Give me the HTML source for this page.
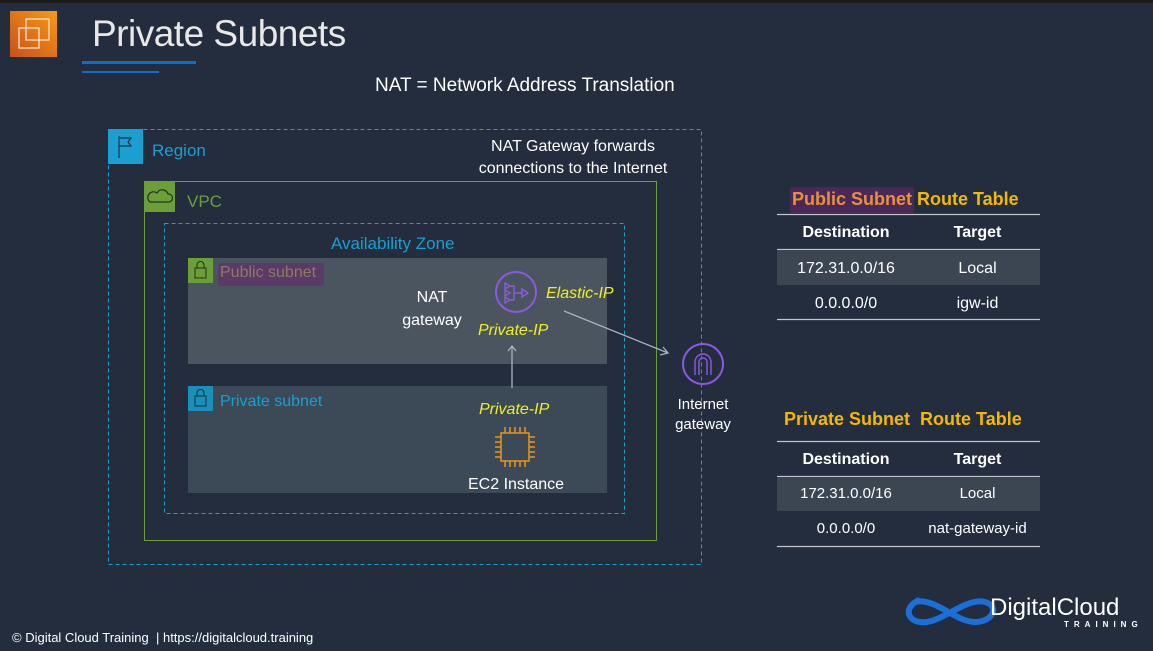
<!DOCTYPE html>
<html><head><meta charset="utf-8"><style>
body{margin:0;width:1153px;height:651px;background:#232d3d;overflow:hidden;position:relative;font-family:"Liberation Sans",sans-serif}
.t{position:absolute;white-space:nowrap}
</style></head><body>
<div style="position:absolute;left:0;top:0;width:1153px;height:3px;background:#1c1c1c"></div>
<svg width="1153" height="651" style="position:absolute;left:0;top:0">
<defs><linearGradient id="og" x1="0" y1="1" x2="1" y2="0"><stop offset="0" stop-color="#c8511b"/><stop offset="1" stop-color="#f79a14"/></linearGradient></defs>
<rect x="10" y="11" width="47" height="46" fill="url(#og)"/>
<rect x="26" y="19" width="23" height="21" fill="none" stroke="#fff" stroke-width="1.2" opacity=".85"/>
<rect x="19" y="28" width="20" height="20" fill="none" stroke="#fff" stroke-width="1.2" opacity=".85"/>
<rect x="82" y="61" width="114" height="3" fill="#0a6fc7"/>
<rect x="82" y="71" width="77" height="2" fill="#0a6fc7"/>
<rect x="108.5" y="129.5" width="593" height="435" fill="none" stroke="#1a9fd0" stroke-dasharray="4,3"/>
<rect x="108" y="129" width="35" height="35" fill="#1a9fd0"/>
<path d="M119 136v22M119 138h12l-3 4 3 4h-12" fill="none" stroke="#16384a" stroke-width="1.2"/>
<rect x="144.5" y="181.5" width="512" height="359" fill="none" stroke="#6c9e3a"/>
<rect x="144" y="181" width="31" height="31" fill="#6c9e3a"/>
<path d="M150 202h19a4 4 0 0 0-1-8a6 6 0 0 0-11-1a4 4 0 0 0-7 9z" fill="none" stroke="#24321a" stroke-width="1.2"/>
<rect x="164.5" y="223.5" width="460" height="290" fill="none" stroke="#1a9fd0" stroke-dasharray="4,3"/>
<rect x="188" y="258" width="419" height="106" fill="#4a555f"/>
<rect x="188" y="258" width="25" height="25" fill="#6c9e3a"/>
<rect x="195" y="268" width="11" height="10" fill="none" stroke="#24321a"/><path d="M197 268v-3a3.5 3.5 0 0 1 7 0v3" fill="none" stroke="#24321a"/>
<rect x="218" y="263" width="106" height="23" rx="3" fill="#5a3a66"/>
<rect x="188" y="386" width="419" height="107" fill="#3c4a58"/>
<rect x="188" y="386" width="25" height="25" fill="#1a8fba"/>
<rect x="195" y="396" width="11" height="10" fill="none" stroke="#103040"/><path d="M197 396v-3a3.5 3.5 0 0 1 7 0v3" fill="none" stroke="#103040"/>
<circle cx="516" cy="292" r="20" fill="none" stroke="#8c5ae0" stroke-width="2"/>
<path d="M505 283l5 3-5 3zM505 290l5 3-5 3zM505 297l5 3-5 3zM510 286h4v14h-4M514 293h8M522 289l6 4-6 4z" fill="none" stroke="#8c5ae0" stroke-width="1.4"/>
<circle cx="703" cy="364" r="20" fill="none" stroke="#8c5ae0" stroke-width="2"/>
<path d="M695 375v-13a8 8 0 0 1 16 0v13M699 375v-13a4 4 0 0 1 8 0v13" fill="none" stroke="#8c5ae0" stroke-width="1.4"/>
<path d="M512 388V346M508 351l4-5 4 5" fill="none" stroke="#a8b4c4" stroke-width="1.3"/>
<path d="M564 311L668 353M660 355l8-2-5-6" fill="none" stroke="#a8b4c4" stroke-width="1.3"/>
<g stroke="#e8941a" stroke-width="1.5" fill="none"><rect x="501" y="433" width="28" height="28"/>
<path d="M505 427v6M510 427v6M515 427v6M520 427v6M525 427v6M505 461v6M510 461v6M515 461v6M520 461v6M525 461v6M495 437h6M495 442h6M495 447h6M495 452h6M495 457h6M529 437h6M529 442h6M529 447h6M529 452h6M529 457h6"/></g>
<rect x="790" y="187" width="124" height="26" rx="3" fill="#4a2858"/>
<g stroke="#c0c4c8" stroke-width="1.3"><path d="M777 214.5h263M777 249.5h263M777 319.5h263M777 441.5h263M777 476.5h263M777 546.5h263"/></g>
<rect x="777" y="250" width="263" height="35" fill="#3c4653"/>
<rect x="777" y="477" width="263" height="34" fill="#3c4653"/>
<path d="M920 600c-15 5-15 20 0 22c20 3 45-25 65-20c15 4 8 20-10 20c-20 0-40-25-60-20" fill="none" stroke="#1a6fd8" stroke-width="6"/>
</svg>
<div class="t" style="left:92px;top:13px;font-size:37px;color:#e8e8e8;letter-spacing:-0.5px">Private Subnets</div>
<div class="t" style="left:375px;top:75px;font-size:19px;color:#fff">NAT = Network Address Translation</div>
<div class="t" style="left:152px;top:141px;font-size:17px;color:#1a9fd0">Region</div>
<div class="t" style="left:573px;top:136px;font-size:16px;color:#fff;text-align:center;transform:translateX(-50%);line-height:22px">NAT Gateway forwards<br>connections to the Internet</div>
<div class="t" style="left:187px;top:192px;font-size:17px;color:#6c9e3a">VPC</div>
<div class="t" style="left:331px;top:234px;font-size:17px;color:#1a9fd0">Availability Zone</div>
<div class="t" style="left:220px;top:264px;font-size:16px;color:#8c7c64">Public subnet</div>
<div class="t" style="left:220px;top:393px;font-size:16px;color:#1a9fd0">Private subnet</div>
<div class="t" style="left:432px;top:286px;font-size:16px;color:#fff;text-align:center;transform:translateX(-50%);line-height:23px">NAT<br>gateway</div>
<div class="t" style="left:546px;top:285px;font-size:16px;color:#f0f020;font-style:italic">Elastic-IP</div>
<div class="t" style="left:478px;top:322px;font-size:16px;color:#f0f020;font-style:italic">Private-IP</div>
<div class="t" style="left:479px;top:401px;font-size:16px;color:#f0f020;font-style:italic">Private-IP</div>
<div class="t" style="left:468px;top:476px;font-size:16px;color:#fff">EC2 Instance</div>
<div class="t" style="left:703px;top:395px;font-size:15px;color:#fff;text-align:center;transform:translateX(-50%);line-height:20px">Internet<br>gateway</div>
<div class="t" style="left:792px;top:189px;font-size:18px;font-weight:bold;color:#e8913a">Public Subnet <span style="color:#f5b800">Route Table</span></div>
<div class="t" style="left:784px;top:409px;font-size:18px;font-weight:bold;color:#f5b800">Private Subnet&nbsp; Route Table</div>
<div style="position:absolute;left:777px;top:224px;width:263px;font-size:16px;color:#fff">
<div style="display:flex;height:25px;font-weight:bold"><span style="width:138px;text-align:center">Destination</span><span style="width:125px;text-align:center">Target</span></div>
<div style="display:flex;height:35px;margin-top:11px"><span style="width:138px;text-align:center">172.31.0.0/16</span><span style="width:125px;text-align:center">Local</span></div>
<div style="display:flex"><span style="width:138px;text-align:center">0.0.0.0/0</span><span style="width:125px;text-align:center">igw-id</span></div>
</div>
<div style="position:absolute;left:777px;top:451px;width:263px;font-size:15px;color:#fff">
<div style="display:flex;height:25px;font-weight:bold;font-size:16px"><span style="width:138px;text-align:center">Destination</span><span style="width:125px;text-align:center">Target</span></div>
<div style="display:flex;height:35px;margin-top:9px"><span style="width:138px;text-align:center">172.31.0.0/16</span><span style="width:125px;text-align:center">Local</span></div>
<div style="display:flex"><span style="width:138px;text-align:center">0.0.0.0/0</span><span style="width:125px;text-align:center">nat-gateway-id</span></div>
</div>
<div class="t" style="left:990px;top:594px;font-size:24px;color:#fff">DigitalCloud</div>
<div class="t" style="left:1064px;top:620px;font-size:8px;color:#fff;letter-spacing:5px;font-weight:bold">TRAINING</div>
<div class="t" style="left:12px;top:630px;font-size:13px;color:#fff">© Digital Cloud Training&nbsp; | https://digitalcloud.training</div>
</body></html>
